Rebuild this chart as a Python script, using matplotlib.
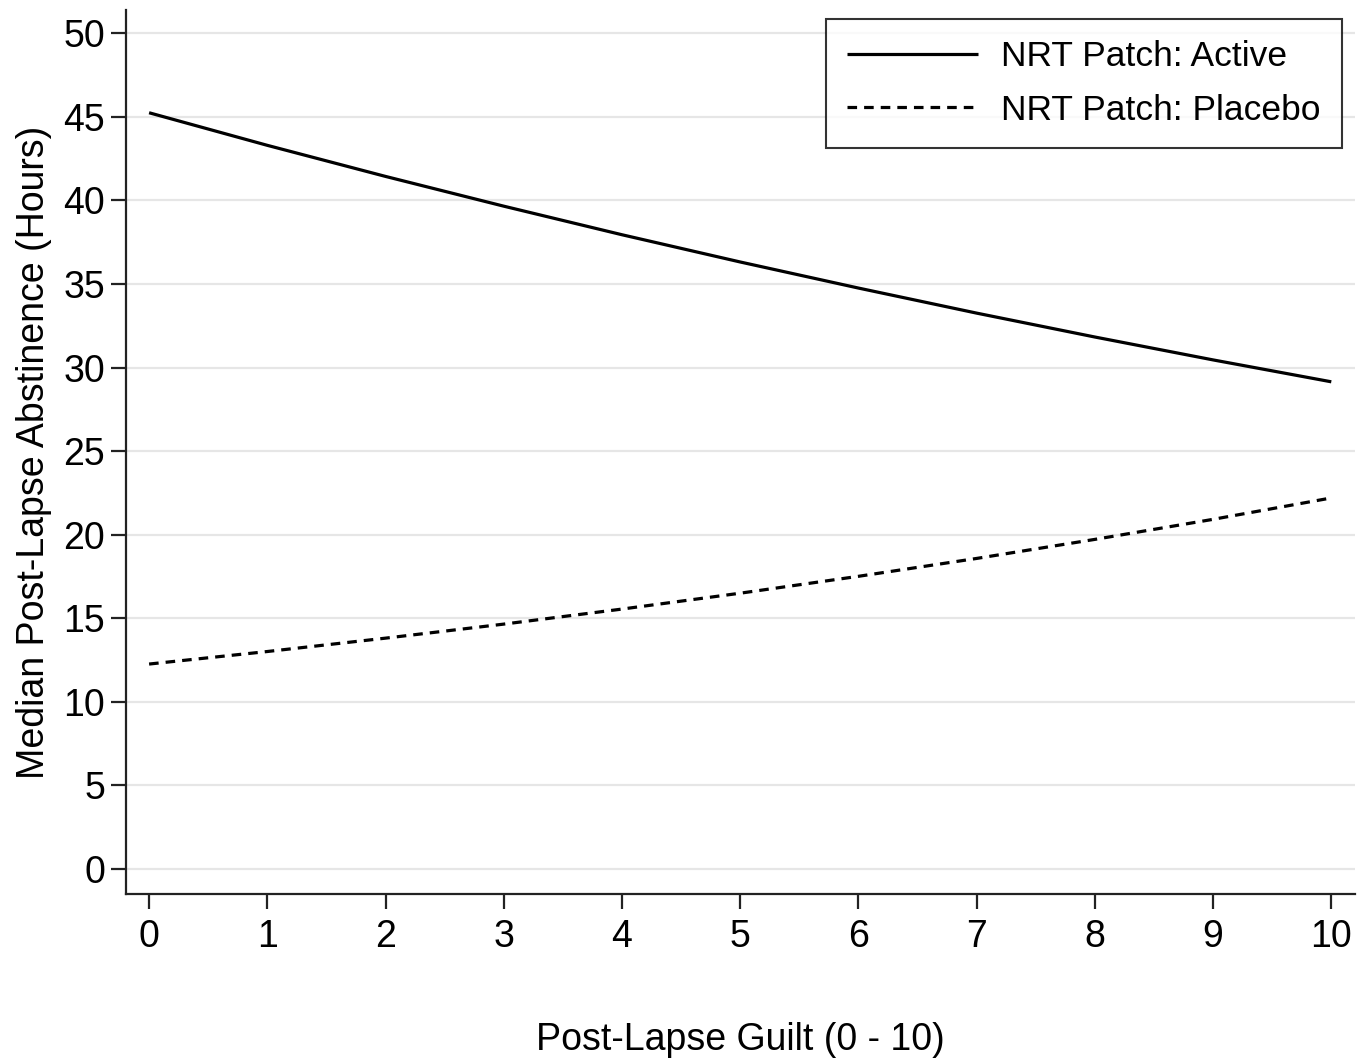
import matplotlib
matplotlib.use("Agg")
import matplotlib.pyplot as plt

plt.rcParams['font.family'] = ['Liberation Sans', 'DejaVu Sans']

# values
guilt = [0, 1, 2, 3, 4, 5, 6, 7, 8, 9, 10]
active = [45.25, 43.3, 41.44, 39.66, 37.95, 36.32, 34.76, 33.26, 31.83, 30.46, 29.15]
placebo = [12.26, 13.01, 13.81, 14.65, 15.55, 16.5, 17.51, 18.58, 19.72, 20.92, 22.2]
series_labels = ["NRT Patch: Active", "NRT Patch: Placebo"]
yticks = [0, 5, 10, 15, 20, 25, 30, 35, 40, 45, 50]

fig = plt.figure(figsize=(13.7, 10.61), dpi=100)
ax = fig.add_axes([0.092, 0.1574, 0.897, 0.8332])

for y in yticks:
    ax.axhline(y, color='#e6e6e6', lw=1.6, zorder=0)

ax.plot(guilt, active, color='black', lw=2.3, solid_capstyle='butt', label=series_labels[0])
ax.plot(guilt, placebo, color='black', lw=2.3, dashes=(3, 2.2), label=series_labels[1])

ax.set_xlim(-0.195, 10.2)
ax.set_ylim(-1.5, 51.4)
ax.set_xticks(guilt)
ax.set_yticks(yticks)

for s in ['top', 'right']:
    ax.spines[s].set_visible(False)
for s in ['left', 'bottom']:
    ax.spines[s].set_linewidth(1.6)
    ax.spines[s].set_color('#222222')

ax.tick_params(axis='both', labelsize=27, width=1.6, color='#222222', length=11)
ax.tick_params(axis='x', pad=7)
ax.tick_params(axis='y', pad=4)

ax.set_xlabel("Post-Lapse Guilt (0 - 10)", fontsize=27, labelpad=48)
ax.set_ylabel("Median Post-Lapse Abstinence (Hours)", fontsize=27, labelpad=8)

leg = ax.legend(loc='upper right', bbox_to_anchor=(0.9895, 0.99), borderaxespad=0,
                fontsize=25.5, frameon=True, fancybox=False, edgecolor='black',
                handlelength=3.7, handletextpad=0.65, labelspacing=0.58,
                borderpad=0.6)
leg.get_frame().set_linewidth(1.5)

fig.savefig("out.png", dpi=100, facecolor='white')
